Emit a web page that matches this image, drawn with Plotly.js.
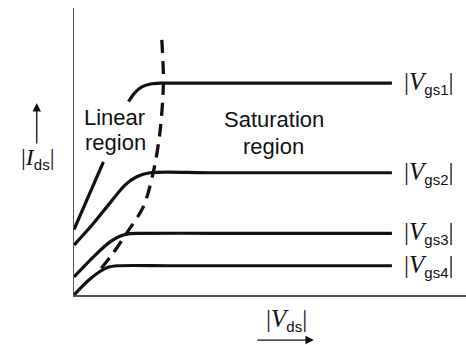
<!DOCTYPE html>
<html>
<head>
<meta charset="utf-8">
<script src="https://cdn.plot.ly/plotly-3.0.1.min.js"></script>
<style>
  html, body { margin: 0; padding: 0; background: #fff; }
  #chart { width: 466px; height: 345px; }
</style>
</head>
<body>
<div id="chart"></div>
<script>
// Drain characteristics |Ids| vs |Vds| for four gate voltages (schematic units).
// A null splits the Vgs1 curve where the "Linear region" text sits over it.
const vgs1Vds = [0.00, 0.75, null, 1.39, 1.55, 1.72, 1.95, 2.20, 3.50, 8.11];
const vgs1Ids = [2.28, 4.64, null, 6.74, 7.04, 7.24, 7.35, 7.38, 7.38, 7.38];

const vgs2Vds = [0.00, 0.46, 0.92, 1.30, 1.60, 1.94, 3.50, 8.11];
const vgs2Ids = [1.74, 2.44, 3.21, 3.83, 4.12, 4.26, 4.26, 4.26];

const vgs3Vds = [0.00, 0.54, 0.92, 1.17, 1.43, 1.68, 3.50, 8.11];
const vgs3Ids = [0.63, 1.39, 1.85, 2.05, 2.14, 2.15, 2.15, 2.15];

const vgs4Vds = [0.00, 0.35, 0.66, 0.87, 1.12, 2.50, 8.11];
const vgs4Ids = [0.00, 0.49, 0.82, 0.97, 1.02, 1.02, 1.02];

// Boundary between the linear and saturation regions (Vds = Vgs - Vt)
const edgeVds = [2.24, 2.28, 2.19, 2.02, 1.77, 1.34, 1.00, 0.64];
const edgeIds = [8.89, 7.38, 5.64, 4.26, 3.08, 2.15, 1.46, 0.84];

const curveSubs = ['gs1', 'gs2', 'gs3', 'gs4'];
const curveLevels = [7.38, 4.26, 2.15, 1.02];
const labelVds = 8.36;

const regionText = [
  { text: 'Linear', x: 1.03, y: 6.20 },
  { text: 'region', x: 1.06, y: 5.30 },
  { text: 'Saturation', x: 5.09, y: 6.10 },
  { text: 'region', x: 5.09, y: 5.18 }
];

const SANS = 'Liberation Sans, Arial, Helvetica, sans-serif';
const SERIF = 'Liberation Serif, Times New Roman, serif';
const INK = '#111';

function curve(x, y) {
  return {
    x: x, y: y, type: 'scatter', mode: 'lines',
    line: { color: INK, width: 3.2, shape: 'spline', smoothing: 0.8 },
    connectgaps: false, cliponaxis: false, hoverinfo: 'skip', showlegend: false
  };
}

const traces = [
  curve(vgs1Vds, vgs1Ids),
  curve(vgs2Vds, vgs2Ids),
  curve(vgs3Vds, vgs3Ids),
  curve(vgs4Vds, vgs4Ids),
  {
    x: edgeVds, y: edgeIds, type: 'scatter', mode: 'lines',
    line: { color: INK, width: 3.3, dash: '13px,8px', shape: 'spline', smoothing: 0.9 },
    cliponaxis: false, hoverinfo: 'skip', showlegend: false
  }
];

function quantity(sym, sub, subSize) {
  return '|<i>' + sym + '</i><sub><span style="font-family:' + SANS +
         ';font-size:' + subSize + 'px;font-style:normal">' + sub + '</span></sub>|';
}

const annotations = [];

curveSubs.forEach(function (s, i) {
  annotations.push({
    xref: 'x', yref: 'y', x: labelVds, y: curveLevels[i],
    xanchor: 'left', yanchor: 'middle', showarrow: false,
    text: quantity('V', s, 15),
    font: { family: SERIF, size: 25, color: INK }
  });
});

regionText.forEach(function (r) {
  annotations.push({
    xref: 'x', yref: 'y', x: r.x, y: r.y,
    xanchor: 'center', yanchor: 'middle', showarrow: false,
    text: r.text,
    font: { family: SANS, size: 22, color: INK }
  });
});

// Axis quantity labels with their direction arrows
annotations.push({
  xref: 'paper', yref: 'paper', x: -0.094, y: 0.475,
  xanchor: 'center', yanchor: 'middle', showarrow: false,
  text: quantity('I', 'ds', 15),
  font: { family: SERIF, size: 24, color: INK }
});
annotations.push({
  xref: 'paper', yref: 'paper', x: -0.095, y: 0.669,
  ax: 0, ay: 42, text: '', showarrow: true,
  arrowhead: 2, arrowsize: 1.3, arrowwidth: 1.3, arrowcolor: INK
});
annotations.push({
  xref: 'paper', yref: 'paper', x: 0.541, y: -0.088,
  xanchor: 'center', yanchor: 'middle', showarrow: false,
  text: quantity('V', 'ds', 15),
  font: { family: SERIF, size: 25, color: INK }
});
annotations.push({
  xref: 'paper', yref: 'paper', x: 0.612, y: -0.157,
  ax: -58, ay: 0, text: '', showarrow: true,
  arrowhead: 2, arrowsize: 1.3, arrowwidth: 1.3, arrowcolor: INK
});

const axisStyle = {
  range: [0, 10], showline: true, linecolor: '#555', linewidth: 1.5,
  showgrid: false, zeroline: false, showticklabels: false, ticks: '',
  fixedrange: true
};

const layout = {
  width: 466, height: 345,
  margin: { l: 74, r: 0, t: 8, b: 50, pad: 0 },
  paper_bgcolor: '#fff', plot_bgcolor: '#fff',
  xaxis: Object.assign({}, axisStyle),
  yaxis: Object.assign({}, axisStyle),
  annotations: annotations,
  showlegend: false
};

Plotly.newPlot('chart', traces, layout, { staticPlot: true, displayModeBar: false });
</script>
</body>
</html>
